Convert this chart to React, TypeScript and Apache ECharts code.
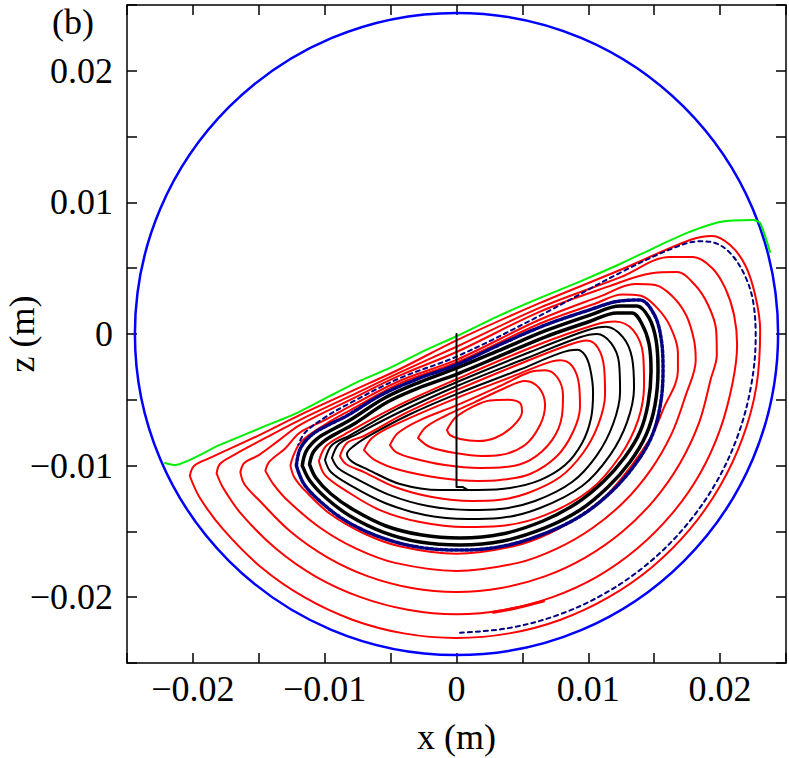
import React, { useEffect, useRef } from 'react';
import * as echarts from 'echarts';

// values in millimetres; axis labels are shown in metres
const tickValues = [-20, -10, 0, 10, 20];
const tickLabels = ['\u22120.02', '\u22120.01', '0', '0.01', '0.02'];
const wallRadius = [[0, 0, 24.4]];

const greenEdge = [[-22.12,-9.80],[-21.37,-9.96],[-18.0,-8.45],[-14.69,-7.07],[-12.0,-5.95],[-9.60,-4.71],[-7.3,-3.55],[-5.05,-2.58],[-2.5,-1.30],[0.04,-0.15],[3.2,1.38],[6.34,2.74],[9.4,4.0],[12.41,5.32],[15.0,6.55],[17.49,7.68],[20.0,8.51],[22.50,8.66],[23.04,8.44],[23.79,6.23]];

const red1 = [[-20.23,-10.79],[-19.92,-10.03],[-18.71,-9.42],[-15.0,-7.7],[-11.9,-6.16],[-8.08,-4.40],[-4.29,-2.66],[0.04,-0.46],[6.34,2.36],[12.41,4.86],[17.72,7.14],[19.39,7.45],[20.76,6.76],[21.90,5.24],[22.66,2.96],[23.04,0.30],[22.75,-4.0],[21.71,-7.9],[20.0,-11.55],[17.70,-14.85],[14.85,-17.70],[11.55,-20.0],[7.9,-21.71],[4.0,-22.75],[0,-23.1],[-4.0,-22.75],[-7.9,-21.71],[-11.55,-20.0],[-14.85,-17.70],[-17.70,-14.85],[-19.5,-12.4],[-20.23,-10.79]];
const red2 = [[-18.2,-10.6],[-17.95,-9.88],[-16.9,-9.2],[-14.5,-7.9],[-11.9,-6.54],[-8.08,-4.72],[-4.29,-2.92],[0.04,-0.95],[6.34,2.0],[12.41,4.3],[16.20,5.85],[17.95,5.85],[19.39,5.02],[20.38,3.50],[21.06,1.44],[21.29,-0.84],[20.95,-3.7],[19.99,-7.28],[18.45,-10.65],[16.32,-13.69],[13.69,-16.32],[10.65,-18.45],[7.28,-19.99],[3.7,-20.95],[0,-21.3],[-3.7,-20.95],[-7.28,-19.99],[-10.65,-18.45],[-13.69,-16.32],[-16.32,-13.69],[-17.7,-11.7],[-18.2,-10.6]];
const red3 = [[-16.4,-10.5],[-16.1,-9.8],[-15.0,-9.2],[-13.5,-8.1],[-11.9,-6.92],[-8.08,-5.0],[-4.29,-3.15],[0.04,-1.35],[6.34,1.7],[11.5,3.6],[14.69,4.6],[16.73,4.71],[18.10,3.72],[19.09,2.20],[19.70,0.30],[19.75,-1.6],[19.30,-3.40],[18.42,-6.70],[16.97,-9.80],[15.01,-12.60],[12.60,-15.01],[9.80,-16.97],[6.70,-18.42],[3.40,-19.30],[0,-19.6],[-3.40,-19.30],[-6.70,-18.42],[-9.80,-16.97],[-12.60,-15.01],[-15.01,-12.60],[-16.1,-11.4],[-16.4,-10.5]];
const red4 = [[-14.5,-10.4],[-14.2,-9.7],[-13.0,-8.7],[-11.9,-7.5],[-10.0,-6.55],[-8.08,-5.5],[-4.29,-3.55],[0.04,-1.95],[6.34,1.1],[11.0,2.9],[13.55,3.80],[15.07,3.72],[16.36,2.89],[17.42,1.44],[18.02,-0.46],[18.15,-2.0],[17.39,-4.66],[16.31,-7.61],[14.74,-10.32],[12.73,-12.73],[10.32,-14.74],[7.61,-16.31],[4.66,-17.39],[0,-18.0],[-4.66,-17.39],[-7.61,-16.31],[-10.32,-14.74],[-12.73,-12.73],[-13.9,-11.4],[-14.5,-10.4]];
const red5 = [[-12.6,-10.0],[-12.4,-9.3],[-11.8,-8.2],[-10.0,-6.9],[-8.08,-5.8],[-4.29,-3.75],[0.04,-2.15],[6.34,0.8],[10.5,2.3],[12.6,3.0],[14.0,2.9],[15.2,2.0],[16.2,0.6],[16.8,-1.4],[16.8,-2.8],[15.69,-5.71],[14.6,-8.1],[11.81,-11.81],[9.58,-13.68],[7.06,-15.14],[4.32,-16.13],[0,-16.7],[-4.32,-16.13],[-7.06,-15.14],[-9.58,-13.68],[-11.4,-12.0],[-12.3,-10.9],[-12.6,-10.0]];
const red2Overlap = [[2.8,-21.15],[4.6,-20.8],[6.6,-20.3]];
const dashedOuter = [[0.27,-22.7],[3.94,-22.35],[7.76,-21.33],[11.35,-19.66],[14.59,-17.39],[17.39,-14.59],[19.66,-11.35],[21.33,-7.76],[22.35,-3.94],[22.7,-0.2],[22.5,2.5],[21.9,4.4],[20.9,6.0],[19.8,6.85],[18.5,7.05],[16.5,6.55],[12.41,4.65],[6.34,1.4],[0.04,-1.7],[-4.29,-3.35],[-8.08,-5.25],[-10.0,-6.35],[-11.5,-7.5],[-12.0,-8.4]];

const red6 = [[-10.44,-9.65],[-9.90,-8.51],[-8.46,-7.6],[-4.67,-5.55],[0.04,-3.42],[5.96,-0.91],[10.51,0.7],[12.03,0.95],[13.40,0.30],[14.16,-1.60],[14.23,-3.88],[13.78,-6.54],[12.41,-9.27],[10.13,-11.86],[6.72,-13.76],[3.30,-14.59],[0.65,-14.67],[-2.77,-14.29],[-5.81,-13.38],[-8.46,-11.86],[-9.98,-10.72],[-10.44,-9.65]];
const black3 = [[-9.98,-9.58],[-9.45,-8.44],[-8.08,-7.7],[-4.44,-5.65],[0.04,-3.65],[5.58,-1.37],[9.98,0.3],[11.35,0.55],[12.64,-0.25],[13.32,-1.82],[13.47,-4.10],[12.94,-6.69],[11.65,-9.20],[9.53,-11.55],[6.34,-13.22],[3.30,-13.98],[0.87,-14.06],[-2.39,-13.76],[-5.43,-12.84],[-8.08,-11.48],[-9.53,-10.49],[-9.98,-9.58]];
const black2 = [[-9.45,-9.42],[-8.92,-8.36],[-7.55,-7.6],[-4.14,-5.85],[0.04,-3.95],[5.35,-1.82],[9.37,-0.25],[10.66,0.0],[11.73,-0.7],[12.33,-2.20],[12.41,-4.41],[11.88,-6.84],[10.66,-9.20],[8.77,-11.25],[5.96,-12.69],[3.30,-13.30],[1.02,-13.38],[-2.16,-13.07],[-5.05,-12.24],[-7.55,-11.02],[-8.99,-10.18],[-9.45,-9.42]];
const red7 = [[-8.84,-9.27],[-8.31,-8.28],[-7.02,-7.75],[-3.83,-6.0],[0.04,-4.25],[4.97,-2.20],[8.61,-0.8],[9.90,-0.5],[10.74,-1.06],[11.20,-2.58],[11.27,-4.64],[10.74,-6.92],[9.60,-9.04],[7.86,-10.87],[5.43,-12.08],[3.15,-12.62],[1.18,-12.69],[-1.86,-12.39],[-4.67,-11.63],[-7.02,-10.49],[-8.39,-9.88],[-8.84,-9.27]];
const blackStem = [[0,0],[0,-11.63],[0.49,-11.63],[0.87,-11.86],[1.63,-11.86]];
const black1 = [[1.63,-11.86],[4.06,-11.70],[6.34,-11.10],[8.24,-9.96],[9.53,-8.28],[10.21,-6.38],[10.36,-4.41],[10.13,-2.58],[9.75,-1.6],[9.15,-1.2],[7.86,-1.45],[4.82,-2.7],[0.04,-4.55],[-3.53,-6.1],[-6.57,-7.7],[-7.78,-8.5],[-8.31,-9.12],[-7.93,-9.7],[-6.72,-10.3],[-4.29,-11.40],[-1.25,-11.86],[1.63,-11.86]];
const red8 = [[-7.02,-8.82],[-6.41,-7.90],[-4.90,-7.0],[0.04,-4.85],[4.06,-3.3],[6.72,-2.25],[7.86,-2.0],[8.77,-2.43],[9.30,-3.88],[9.37,-5.55],[8.84,-7.45],[7.63,-9.27],[5.58,-10.64],[3.30,-11.10],[1.63,-11.17],[-1.25,-10.94],[-4.29,-10.34],[-6.19,-9.58],[-7.02,-8.82]];
const red9 = [[-5.05,-8.44],[-4.44,-7.52],[-2.77,-6.54],[0.04,-5.40],[3.30,-3.95],[5.58,-2.89],[6.72,-2.75],[7.63,-3.27],[8.08,-4.64],[8.01,-6.16],[7.25,-8.06],[5.58,-9.58],[3.68,-10.11],[1.78,-10.18],[-0.87,-9.96],[-3.38,-9.42],[-4.59,-8.97],[-5.05,-8.44]];
const red10 = [[-2.92,-7.90],[-2.31,-7.07],[-0.87,-6.23],[1.40,-5.17],[3.68,-4.10],[5.20,-3.57],[6.26,-4.10],[6.72,-5.40],[6.34,-6.92],[5.20,-8.44],[3.30,-9.20],[1.94,-9.27],[-0.11,-9.04],[-2.01,-8.59],[-2.92,-7.90]];
const red11 = [[-0.72,-7.30],[-0.11,-6.38],[1.18,-5.55],[2.54,-5.05],[3.91,-5.0],[4.82,-5.25],[4.97,-5.93],[4.21,-7.07],[2.92,-7.90],[1.63,-8.13],[0.27,-7.98],[-0.49,-7.68],[-0.72,-7.30]];

const cycleOuter = [[-11.7,-10.0],[-11.4,-8.9],[-10.5,-7.9],[-9.2,-7.15],[-8.08,-6.54],[-5.42,-4.85],[-2.77,-3.65],[0.04,-2.58],[3.30,-1.22],[6.71,0.23],[10.13,1.44],[12.40,2.13],[13.69,2.13],[14.61,1.22],[15.14,-0.46],[15.29,-2.74],[15.06,-5.40],[14.38,-7.68],[13.16,-9.73],[11.49,-11.63],[9.37,-13.38],[6.71,-14.74],[3.53,-15.73],[0.27,-16.04],[-2.77,-15.81],[-5.58,-15.05],[-8.08,-13.83],[-9.90,-12.46],[-11.11,-11.17],[-11.7,-10.0]];
const cycleInner = [[-11.15,-9.9],[-10.85,-8.95],[-10.0,-8.1],[-8.9,-7.45],[-7.78,-6.84],[-5.20,-5.15],[-2.62,-4.0],[0.04,-3.04],[3.30,-1.67],[6.71,-0.23],[9.98,0.91],[12.18,1.60],[13.32,1.60],[14.07,0.76],[14.61,-0.76],[14.76,-2.81],[14.53,-5.32],[13.92,-7.45],[12.78,-9.35],[11.19,-11.17],[9.14,-12.84],[6.56,-14.21],[3.45,-15.20],[0.27,-15.50],[-2.62,-15.28],[-5.35,-14.59],[-7.78,-13.38],[-9.52,-12.16],[-10.66,-10.94],[-11.15,-9.9]];
const dashedCycle = [[-12.15,-10.0],[-11.85,-8.7],[-10.9,-7.6],[-9.6,-6.85],[-8.38,-6.25],[-5.65,-4.6],[-2.92,-3.4],[0.04,-2.32],[3.22,-0.84],[6.56,0.61],[10.05,1.82],[12.40,2.51],[13.92,2.58],[14.98,1.52],[15.52,-0.30],[15.67,-2.74],[15.44,-5.55],[14.76,-7.90],[13.47,-10.03],[11.72,-12.01],[9.52,-13.76],[6.79,-15.12],[3.60,-16.11],[0.27,-16.42],[-2.92,-16.19],[-5.80,-15.43],[-8.38,-14.21],[-10.28,-12.77],[-11.57,-11.40],[-12.15,-10.0]];

const FONT = '"Liberation Serif", "Times New Roman", serif';
const RED = '#ff0000';
const NAVY = '#000080';

function line(data: number[][], color: string, width: number, dash?: number[], smooth: number | boolean = 0.35) {
  return {
    type: 'line',
    data,
    showSymbol: false,
    symbol: 'none',
    smooth,
    silent: true,
    clip: false,
    lineStyle: { color, width, type: dash ? dash : 'solid', cap: 'round', join: 'round' },
  };
}

function labelFmt(v: number) {
  const r = Math.round(v);
  if (Math.abs(v - r) > 1e-6) return '';
  const i = tickValues.indexOf(r);
  return i >= 0 ? tickLabels[i] : '';
}

export default function App() {
  const ref = useRef<HTMLDivElement>(null);
  useEffect(() => {
    if (!ref.current) return;
    const chart = echarts.init(ref.current, null, { renderer: 'svg' });
    const axisCommon = {
      type: 'value',
      min: -25,
      max: 25,
      interval: 5,
      splitLine: { show: false },
      axisLine: { show: true, onZero: false, lineStyle: { color: '#000', width: 1.5 } },
      axisTick: { show: true, inside: true, length: 10, lineStyle: { color: '#000', width: 1.5 } },
    };
    chart.setOption({
      animation: false,
      backgroundColor: '#fff',
      grid: { left: 127, right: 3, top: 5, bottom: 95, containLabel: false, outerBoundsMode: 'none' },
      xAxis: [
        {
          ...axisCommon,
          position: 'bottom',
          axisLabel: { formatter: labelFmt, fontFamily: FONT, fontSize: 36, color: '#000', margin: 8 },
          name: 'x (m)',
          nameLocation: 'middle',
          nameGap: 56,
          nameMoveOverlap: false,
          nameTextStyle: { fontFamily: FONT, fontSize: 36, color: '#000' },
        },
        { ...axisCommon, position: 'top', axisLabel: { show: false } },
      ],
      yAxis: [
        {
          ...axisCommon,
          position: 'left',
          axisLabel: { formatter: labelFmt, fontFamily: FONT, fontSize: 36, color: '#000', margin: 14 },
          name: 'z (m)',
          nameLocation: 'middle',
          nameGap: 87,
          nameMoveOverlap: false,
          nameTextStyle: { fontFamily: FONT, fontSize: 36, color: '#000' },
        },
        { ...axisCommon, position: 'right', axisLabel: { show: false } },
      ],
      graphic: [
        { type: 'text', left: 52, top: 4, style: { text: '(b)', font: `36px ${FONT}`, fill: '#000' } },
      ],
      series: [
        {
          type: 'custom',
          coordinateSystem: 'cartesian2d',
          data: wallRadius,
          encode: { x: 0, y: 1 },
          silent: true,
          clip: false,
          renderItem: (params: any, api: any) => {
            const c = api.coord([api.value(0), api.value(1)]);
            const s = api.size([api.value(2), api.value(2)]);
            return {
              type: 'ellipse',
              shape: { cx: c[0], cy: c[1], rx: s[0], ry: s[1] },
              style: { fill: 'none', stroke: '#0000ff', lineWidth: 2.5 },
            };
          },
        },
        line(greenEdge, '#00ee00', 2, undefined, 0.2),
        line(red1, RED, 2),
        line(red2, RED, 2),
        line(red3, RED, 2),
        line(red4, RED, 2),
        line(red5, RED, 2),
        line(red2Overlap, RED, 3),
        line(dashedOuter, NAVY, 2, [4, 4]),
        line(red6, RED, 2),
        line(red7, RED, 2),
        line(red8, RED, 2),
        line(red9, RED, 2),
        line(red10, RED, 2),
        line(red11, RED, 2),
        line(black3, '#000', 2),
        line(black2, '#000', 2),
        line(black1, '#000', 2),
        line(blackStem, '#000', 2, undefined, false),
        line(cycleInner, '#000', 3.5),
        line(cycleOuter, '#000', 3.5),
        line(dashedCycle, NAVY, 3.5, [3, 2]),
      ],
    });
    return () => chart.dispose();
  }, []);
  return <div ref={ref} style={{ position: 'absolute', left: 0, top: 0, width: 789, height: 758 }} />;
}
